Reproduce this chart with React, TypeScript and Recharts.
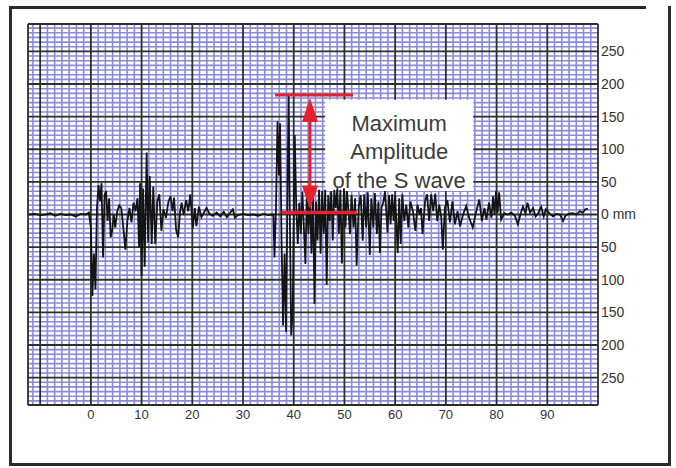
import React from 'react';
import {
  LineChart,
  Line,
  XAxis,
  YAxis,
  CartesianGrid,
  ReferenceLine,
  ReferenceArea,
} from 'recharts';

// seismogram trace: [time, amplitude in mm]
const preEvent: [number, number][] = [
  [-12.2, 0], [-11, 1], [-10, -1], [-9, 0], [-8, 2], [-7, -2], [-6, 1],
  [-5, -1], [-4, 0], [-3, -3], [-2, 1], [-1, 0], [-0.4, 3],
];

const pWave: [number, number][] = [
  [0.0, -20], [0.3, -125], [0.6, -60], [0.9, -115], [1.2, 10], [1.5, 45],
  [1.8, 20], [2.1, 48], [2.4, -66], [2.7, 30], [3.0, 36], [3.3, -10],
  [3.6, 25], [3.9, -35], [4.2, -25], [4.5, 0], [4.8, -20], [5.2, 5],
  [5.6, 14], [6.0, 10], [6.4, -20], [6.8, -54], [7.2, -10], [7.6, 10],
  [8.0, -12], [8.4, 18], [8.8, 5], [9.2, 25], [9.5, -50], [9.7, 48],
  [10.0, -94], [10.3, 40], [10.6, -80], [11.0, 95], [11.3, -43], [11.6, 59],
  [12.0, -45], [12.3, 43], [12.7, -45], [13.1, 20], [13.5, 31], [13.9, -25],
  [14.3, 8], [14.8, -5], [15.3, 20], [15.7, 28], [16.1, 5], [16.4, 26],
  [16.8, -23], [17.2, -35], [17.6, 5], [17.9, 18], [18.3, 0], [18.8, 22],
  [19.2, 5], [19.6, 31], [20.1, -21], [20.5, 10], [20.8, -18], [21.3, 12],
  [21.8, -4], [22.3, 3], [22.8, 10], [23.4, 1],
];

const quietGap: [number, number][] = [
  [24.0, -2], [24.8, 3], [25.5, -3], [26.2, 4], [26.8, -4], [27.4, 2],
  [28.0, 8], [28.4, -5], [29.0, -1], [30.0, 1], [31.0, -1], [32.0, 0],
  [33.0, -2], [34.0, 1], [35.0, -1], [35.8, 0],
];

const sWave: [number, number][] = [
  [36.0, 0], [36.2, -66], [36.5, 10], [36.8, 143], [37.1, 60], [37.3, 140],
  [37.6, -40], [37.9, -170], [38.2, -60], [38.5, -180], [38.8, 60], [39.0, 182],
  [39.2, 20], [39.5, -185], [39.8, -150], [40.2, 122], [40.5, 10], [40.8, -45],
  [41.1, 18], [41.4, -30], [41.7, 35], [42.0, -20], [42.3, -76], [42.6, 38],
  [42.9, -30], [43.2, 35], [43.5, -60], [43.8, 30], [44.1, -137], [44.4, 20],
  [44.7, -40], [45.0, 38], [45.3, -60], [45.6, 36], [45.9, -30], [46.2, 38],
  [46.5, -108], [46.8, 30], [47.1, -10], [47.4, 36], [47.7, -40], [48.0, 38],
  [48.3, 10], [48.6, 40], [48.9, -30], [49.2, 38], [49.5, -75], [49.9, 40],
  [50.2, -20], [50.5, 36], [50.8, 5], [51.1, -30], [51.4, 30], [51.8, -20],
  [52.1, 25], [52.4, -78], [52.8, 10], [53.2, 30], [53.6, -40], [53.9, 31],
  [54.3, -20], [54.6, 34], [55.0, -62], [55.3, 25], [55.7, -20], [56.0, 33],
  [56.4, -30], [56.7, 20], [57.0, -59], [57.3, 10], [57.7, 20], [58.0, 36],
  [58.5, -28], [58.8, 30], [59.1, -15], [59.4, 31], [59.7, -10], [60.0, 30],
  [60.5, -59], [60.8, 25], [61.1, -45], [61.4, 31], [61.8, -10], [62.2, 15],
  [62.6, -20], [63.0, 20], [63.5, 5], [64.0, -25], [64.4, 15], [64.8, 0],
  [65.1, 10], [65.4, -30], [65.9, 20], [66.3, 31], [66.7, -10], [67.1, 31],
  [67.5, 5], [67.9, 32], [68.3, -10], [68.7, 15], [69.1, -5], [69.4, -54],
  [69.8, 10],
];

const coda: [number, number][] = [
  [70.3, 22], [70.8, -12], [71.3, 20], [71.8, -15], [72.3, 5], [72.8, -18],
  [73.4, 0], [74.0, 13], [74.6, -5], [75.3, -20], [76.0, 5], [76.6, 23],
  [77.1, -10], [77.6, 10], [78.0, -8], [78.5, 18], [79.0, -5], [79.3, 28],
  [79.6, 0], [79.9, 36], [80.2, 2], [80.5, 34], [80.9, -8], [81.5, 2],
  [82.2, 0], [82.9, 3], [83.6, -2], [84.2, -15], [84.7, 0], [85.2, 12],
  [85.7, 2], [86.1, 18], [86.6, 3], [87.2, 10], [87.7, -3], [88.2, 2],
  [88.8, 12], [89.3, -3], [89.7, 8], [90.4, 2], [91.1, -3], [91.8, 1],
  [92.5, 0], [93.1, -10], [93.6, -2], [94.2, 1], [95.0, 2], [95.8, 0],
  [96.4, 5], [97.0, 3], [97.5, 8], [98.0, 9],
];

const xTicks = [0, 10, 20, 30, 40, 50, 60, 70, 80, 90];
const yTicks = [-250, -200, -150, -100, -50, 0, 50, 100, 150, 200, 250];

// annotation: peak level and baseline of the S wave, in chart units
const peakSpan = [36.3, 51.7];
const peakLevel = 183;
const baseSpan = [37.6, 52.4];
const baseLevel = 3;
const arrowAt = 43.2;
const noteX = [46.2, 75.4];
const noteY = [36, 176];
const noteLines = ['Maximum', 'Amplitude', 'of the S wave'];

const X_DOMAIN: [number, number] = [-12.4, 100];
const Y_DOMAIN: [number, number] = [-292, 292];

const trace = [...preEvent, ...pWave, ...quietGap, ...sWave, ...coda].map(([t, v]) => ({ t, v }));

// graph paper: 7 small divisions inside each heavy square
const minorX: number[] = [];
for (let i = -8; i < 70; i++) if (i % 7 !== 0) minorX.push((i * 10) / 7);
const minorY: number[] = [];
for (let i = -40; i <= 40; i++) if (i % 7 !== 0) minorY.push((i * 50) / 7);
const majorX = [X_DOMAIN[0], -10, ...xTicks, X_DOMAIN[1]];
const majorY = [Y_DOMAIN[0], ...yTicks, Y_DOMAIN[1]];

const RED = '#e5212b';
const FONT = '"Liberation Sans", Arial, sans-serif';

const ArrowShape = (p: any) => {
  const { x1, y1, y2 } = p;
  const top = Math.min(y1, y2);
  const bottom = Math.max(y1, y2);
  return (
    <g>
      <line x1={x1} y1={top + 10} x2={x1} y2={bottom - 10} stroke={RED} strokeWidth={3} />
      <polygon points={`${x1},${top + 3} ${x1 - 8},${top + 27} ${x1 + 8},${top + 27}`} fill={RED} />
      <polygon points={`${x1},${bottom - 3} ${x1 - 8},${bottom - 27} ${x1 + 8},${bottom - 27}`} fill={RED} />
    </g>
  );
};

const NoteBox = (p: any) => {
  const { x, y, width, height } = p;
  return (
    <g>
      <rect x={x} y={y} width={width} height={height} fill="#fff" />
      {noteLines.map((s, i) => (
        <text
          key={s}
          x={x + width / 2}
          y={y + 31 + i * 28.5}
          textAnchor="middle"
          fontSize={22}
          fontFamily={FONT}
          fill="#3c3c3c"
        >
          {s}
        </text>
      ))}
    </g>
  );
};

const edge = (left: number, top: number, width: number, height: number) => (
  <div style={{ position: 'absolute', left, top, width, height, background: '#2b2b2b' }} />
);

export default function App() {
  return (
    <div style={{ position: 'absolute', left: 0, top: 0, width: 676, height: 468, background: '#fff' }}>
      {edge(9, 6, 637, 3)}
      {edge(9, 6, 3, 460)}
      {edge(668, 6, 3, 460)}
      {edge(9, 463, 662, 3)}
      <div style={{ position: 'absolute', left: 0, top: 0 }}>
        <LineChart
          width={676}
          height={468}
          data={trace}
          margin={{ top: 24, left: 28, right: 28, bottom: 33 }}
        >
          <CartesianGrid
            horizontalValues={minorY}
            verticalValues={minorX}
            stroke="#8a8ad8"
            strokeWidth={1.6}
          />
          <CartesianGrid
            horizontalValues={majorY}
            verticalValues={majorX}
            stroke="#2e2e2e"
            strokeWidth={1.8}
          />
          <XAxis
            dataKey="t"
            type="number"
            domain={X_DOMAIN}
            ticks={xTicks}
            allowDataOverflow
            axisLine={false}
            tickLine={false}
            tickSize={0}
            tickMargin={5}
            height={30}
            interval={0}
            tick={{ fontSize: 13, fill: '#333', fontFamily: FONT }}
          />
          <YAxis
            orientation="right"
            type="number"
            domain={Y_DOMAIN}
            ticks={yTicks}
            allowDataOverflow
            axisLine={false}
            tickLine={false}
            tickSize={0}
            tickMargin={3}
            width={50}
            interval={0}
            tickFormatter={(v: number) => (v === 0 ? '0 mm' : String(Math.abs(v)))}
            tick={{ fontSize: 14, fill: '#333', fontFamily: FONT }}
          />
          <ReferenceArea
            x1={noteX[0]}
            x2={noteX[1]}
            y1={noteY[0]}
            y2={noteY[1]}
            shape={NoteBox}
          />
          <Line
            type="linear"
            dataKey="v"
            stroke="#141414"
            strokeWidth={1.8}
            dot={false}
            isAnimationActive={false}
          />
          <ReferenceLine
            segment={[{ x: peakSpan[0], y: peakLevel }, { x: peakSpan[1], y: peakLevel }]}
            stroke={RED}
            strokeWidth={3}
          />
          <ReferenceLine
            segment={[{ x: baseSpan[0], y: baseLevel }, { x: baseSpan[1], y: baseLevel }]}
            stroke={RED}
            strokeWidth={3.5}
          />
          <ReferenceLine
            segment={[{ x: arrowAt, y: peakLevel }, { x: arrowAt, y: baseLevel }]}
            stroke={RED}
            shape={ArrowShape}
          />
        </LineChart>
      </div>
    </div>
  );
}
